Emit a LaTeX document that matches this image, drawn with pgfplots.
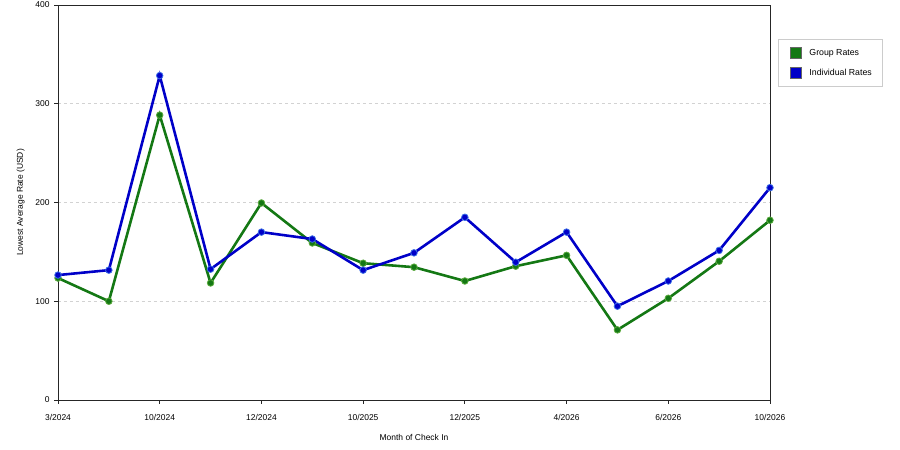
\documentclass[border=0pt]{standalone}
\usepackage{pgfplots}
\pgfplotsset{compat=1.18}
\usepackage{fontspec}
\setmainfont{Liberation Sans}
\definecolor{grp}{RGB}{20,120,20}
\definecolor{grpe}{RGB}{90,170,60}
\definecolor{ind}{RGB}{0,0,200}
\definecolor{inde}{RGB}{60,110,230}
\begin{document}
\begin{tikzpicture}[x=1bp,y=1bp]
\useasboundingbox (0,0) rectangle (900,450);
\begin{axis}[
  at={(58bp,50bp)}, anchor=south west,
  scale only axis, width=712bp, height=395bp,
  xmin=0, xmax=14, ymin=0, ymax=400,
  xtick={0,2,...,14},
  xticklabels={3/2024,10/2024,12/2024,10/2025,12/2025,4/2026,6/2026,10/2026},
  ytick={0,100,200,300,400},
  tick align=outside, tick pos=left,
  major tick length=4bp,
  ymajorgrids, grid style={dashed, gray!35, line width=0.6pt},
  axis line style={black!85, line width=0.8pt},
  tick style={black!85, line width=0.8pt},
  ticklabel style={font=\fontsize{8.5}{10}\selectfont},
  xticklabel style={yshift=-7bp},
  yticklabel style={xshift=-1bp},
  /pgf/number format/assume math mode=true,
  xlabel={Month of Check In}, ylabel={Lowest Average Rate (USD)},
  label style={font=\fontsize{8.5}{10}\selectfont},
  xlabel style={yshift=-7bp},
  ylabel style={yshift=4bp},
  legend style={at={(rel axis cs:1.011,0.914)}, anchor=north west,
    draw=gray!40, font=\fontsize{8.8}{10}\selectfont, row sep=8bp,
    inner xsep=8bp, inner ysep=8bp},
  legend cell align=left,
  legend image code/.code={\filldraw[#1, draw=black!60, line width=0.4pt] (4bp,-5.5bp) rectangle (15bp,5.5bp); \path (0bp,0bp) (21bp,0bp);},
]
\addplot[grp, line width=2.6pt, mark=*, mark size=3.3bp, mark options={fill=grp, draw=grpe, line width=0.8pt}, forget plot]
coordinates {(0,123.5)(1,100)(2,288.5)(3,118.5)(4,199.5)(5,159)(6,138.5)(7,134.5)(8,120.5)(9,135.5)(10,146.5)(11,71)(12,103)(13,140.5)(14,182)};
\addplot[ind, line width=2.6pt, mark=*, mark size=3.3bp, mark options={fill=ind, draw=inde, line width=0.8pt}, forget plot]
coordinates {(0,126.5)(1,131.5)(2,328.5)(3,132.5)(4,170)(5,163)(6,131.5)(7,149)(8,185)(9,139.5)(10,170)(11,95)(12,120.5)(13,151.5)(14,215)};
\addlegendimage{fill=grp}\addlegendentry{Group Rates}
\addlegendimage{fill=ind}\addlegendentry{Individual Rates}
\end{axis}
\end{tikzpicture}
\end{document}
